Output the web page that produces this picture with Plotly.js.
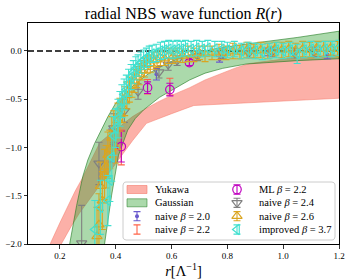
<!DOCTYPE html>
<html><head><meta charset="utf-8">
<script src="https://cdn.plot.ly/plotly-3.0.1.min.js"></script>
<style>html,body{margin:0;padding:0;background:#fff}#chart{width:350px;height:280px}</style>
</head><body><div id="chart"></div>
<script>
// ================= DATA =================
const xTickVals = [0.2, 0.4, 0.6, 0.8, 1.0, 1.2];
const yTickVals = [0.0, -0.5, -1.0, -1.5, -2.0];

// Yukawa band edges
const yukawaUpperR = [0.12, 0.165, 0.20, 0.23, 0.255, 0.28, 0.31, 0.343, 0.38, 0.42, 0.46, 0.50, 0.55, 0.60, 0.665, 0.72, 0.783, 0.83, 0.879, 0.95, 1.02, 1.10, 1.20];
const yukawaUpperV = [-2.4, -2.0, -1.78, -1.60, -1.45, -1.32, -1.14, -0.95, -0.86, -0.77, -0.68, -0.61, -0.53, -0.46, -0.38, -0.30, -0.23, -0.175, -0.13, -0.10, -0.076, -0.058, -0.041];
const yukawaLowerR = [0.165, 0.205, 0.24, 0.27, 0.30, 0.33, 0.36, 0.40, 0.43, 0.46, 0.51, 0.60, 0.68, 0.80, 0.95, 1.10, 1.20];
const yukawaLowerV = [-2.4, -2.0, -1.82, -1.68, -1.56, -1.45, -1.33, -1.17, -1.05, -0.93, -0.75, -0.65, -0.565, -0.545, -0.525, -0.505, -0.49];

// Gaussian band edges
const gaussUpperR = [0.21, 0.235, 0.26, 0.282, 0.30, 0.324, 0.35, 0.372, 0.40, 0.43, 0.47, 0.52, 0.58, 0.65, 0.75, 0.85, 0.95, 1.05, 1.20];
const gaussUpperV = [-2.4, -2.0, -1.6, -1.30, -1.13, -0.96, -0.80, -0.68, -0.54, -0.45, -0.34, -0.23, -0.13, -0.05, 0.02, 0.065, 0.10, 0.14, 0.205];
const gaussLowerR = [0.33, 0.36, 0.385, 0.41, 0.443, 0.47, 0.50, 0.557, 0.60, 0.665, 0.72, 0.783, 0.867, 0.95, 1.05, 1.20];
const gaussLowerV = [-2.4, -2.0, -1.5, -1.08, -0.82, -0.70, -0.61, -0.48, -0.41, -0.30, -0.23, -0.18, -0.135, -0.12, -0.10, -0.08];

// naive beta = 2.0
const naive20R = [0.386, 0.546, 0.772, 0.946, 1.158];
const naive20V = [-0.98, -0.24, -0.085, -0.01, -0.04];
const naive20E = [0.17, 0.06, 0.03, 0.04, 0.04];

// beta = 2.2 (naive and ML share positions)
const beta22R = [0.42, 0.514, 0.594, 0.664];
const naive22V = [-1.00, -0.37, -0.37, -0.11];
const naive22E = [0.18, 0.075, 0.087, 0.04];
const ml22V = [-0.99, -0.38, -0.40, -0.12];
const ml22E = [0.16, 0.06, 0.065, 0.03];

// naive beta = 2.4
const naive24R = [0.278, 0.34, 0.393, 0.431, 0.48, 0.555, 0.588, 0.62, 0.693, 0.784, 0.877, 0.96, 1.04, 1.11];
const naive24V = [-1.99, -1.165, -0.80, -0.62, -0.42, -0.22, -0.14, -0.10, -0.05, -0.03, -0.02, -0.01, -0.02, -0.01];
const naive24E = [0.39, 0.22, 0.15, 0.12, 0.08, 0.06, 0.06, 0.05, 0.05, 0.05, 0.05, 0.05, 0.05, 0.05];

// naive beta = 2.6
const naive26R = [0.333, 0.340, 0.345, 0.352, 0.360, 0.366, 0.372, 0.379, 0.386, 0.393, 0.400, 0.408, 0.415, 0.424, 0.432, 0.440, 0.449, 0.458, 0.466, 0.475, 0.484, 0.493, 0.503, 0.513, 0.524, 0.536, 0.548, 0.560, 0.575, 0.590, 0.605, 0.620, 0.640, 0.660, 0.680, 0.700, 0.720, 0.745, 0.770, 0.795, 0.820, 0.845, 0.870, 0.895, 0.920, 0.945, 0.970, 0.995, 1.020, 1.045, 1.070, 1.095, 1.120, 1.145, 1.170, 1.195];
const naive26V = [-1.92, -1.80, -1.40, -1.55, -1.28, -1.20, -1.08, -1.02, -0.90, -0.82, -1.00, -0.72, -0.66, -0.58, -0.52, -0.46, -0.40, -0.36, -0.31, -0.27, -0.24, -0.20, -0.17, -0.14, -0.13, -0.10, -0.09, -0.07, -0.08, -0.05, -0.06, -0.04, -0.05, -0.03, -0.04, -0.02, -0.03, -0.02, -0.01, -0.02, 0.00, -0.01, 0.01, 0.00, 0.01, 0.00, 0.02, 0.01, 0.02, 0.01, 0.02, 0.01, 0.03, 0.02, 0.03, 0.02];
const naive26E = [0.30, 0.32, 0.25, 0.30, 0.26, 0.22, 0.24, 0.20, 0.22, 0.20, 0.16, 0.18, 0.17, 0.16, 0.15, 0.14, 0.13, 0.12, 0.12, 0.11, 0.11, 0.10, 0.10, 0.09, 0.09, 0.09, 0.08, 0.08, 0.07, 0.08, 0.07, 0.07, 0.07, 0.08, 0.07, 0.07, 0.08, 0.07, 0.08, 0.07, 0.08, 0.07, 0.08, 0.07, 0.08, 0.08, 0.07, 0.08, 0.08, 0.07, 0.08, 0.08, 0.07, 0.08, 0.07, 0.08];

// improved beta = 3.7
const impr37R = [0.325, 0.345, 0.372, 0.379, 0.386, 0.393, 0.400, 0.408, 0.415, 0.422, 0.430, 0.438, 0.446, 0.455, 0.463, 0.472, 0.480, 0.490, 0.500, 0.510, 0.520, 0.530, 0.545, 0.560, 0.575, 0.590, 0.605, 0.620, 0.635, 0.650, 0.670, 0.690, 0.710, 0.730, 0.755, 0.780, 0.800, 0.825, 0.850, 0.875, 0.900, 0.925, 0.950, 0.975, 1.000, 1.025, 1.050, 1.075, 1.100, 1.125, 1.150, 1.175, 1.200];
const impr37V = [-1.85, -1.62, -1.55, -1.34, -1.10, -0.88, -0.80, -0.70, -0.60, -0.52, -0.45, -0.40, -0.33, -0.27, -0.22, -0.18, -0.15, -0.12, -0.09, -0.07, -0.05, -0.03, -0.02, 0.00, 0.01, 0.02, 0.01, 0.02, 0.02, 0.03, 0.02, 0.03, 0.02, 0.03, 0.02, 0.02, 0.01, 0.02, 0.00, 0.01, 0.00, -0.01, 0.00, 0.01, 0.00, 0.01, -0.03, 0.01, 0.02, 0.01, 0.02, 0.02, 0.03];
const impr37E = [0.30, 0.28, 0.26, 0.22, 0.25, 0.20, 0.20, 0.20, 0.18, 0.17, 0.16, 0.15, 0.14, 0.13, 0.12, 0.12, 0.11, 0.11, 0.10, 0.10, 0.10, 0.09, 0.09, 0.09, 0.09, 0.09, 0.09, 0.09, 0.08, 0.08, 0.08, 0.08, 0.08, 0.08, 0.08, 0.08, 0.08, 0.08, 0.08, 0.08, 0.08, 0.08, 0.08, 0.08, 0.08, 0.08, 0.10, 0.08, 0.08, 0.08, 0.08, 0.08, 0.08];

// ================= STYLE =================
const FONT = 'Liberation Serif, Times New Roman, serif';
const C = {
  yukFill: 'rgba(250,128,114,0.62)', yukLine: 'rgba(245,115,100,0.8)',
  gauFill: 'rgba(44,160,44,0.40)', gauLine: 'rgba(30,120,30,0.75)',
  n20: '#6a5acd', n22: '#ff6347', ml: '#bf00bf', n24: '#808080', n26: '#daa520', imp: '#40e0d0'
};
const STY = {
  n20: {symbol: 'circle', size: 4, color: C.n20, open: false},
  n22: {symbol: 'circle', size: 1, color: C.n22, open: false, hidden: true},
  ml:  {symbol: 'circle-open', size: 8.5, color: C.ml, open: true},
  n24: {symbol: 'triangle-down-open', size: 9, color: C.n24, open: true},
  n26: {symbol: 'triangle-up-open', size: 9, color: C.n26, open: true},
  imp: {symbol: 'triangle-left-open', size: 9, color: C.imp, open: true}
};

function band(upR, upV, loR, loV) {
  return {x: upR.concat(loR.slice().reverse()), y: upV.concat(loV.slice().reverse())};
}
function errSeries(name, xs, ys, es, st, xa, ya) {
  return {
    type: 'scatter', mode: 'markers', name: name, x: xs, y: ys, showlegend: false,
    xaxis: xa || 'x', yaxis: ya || 'y', hoverinfo: 'skip', cliponaxis: true,
    marker: {symbol: st.symbol, size: st.size, color: st.color, opacity: st.hidden ? 0 : 1,
             line: {color: st.color, width: st.open ? 1.2 : 0}},
    error_y: {type: 'data', array: es, visible: true, color: st.color, thickness: 1.1, width: 3.5}
  };
}

const traces = [];
const yb = band(yukawaUpperR, yukawaUpperV, yukawaLowerR, yukawaLowerV);
traces.push({type: 'scatter', mode: 'lines', name: 'Yukawa', x: yb.x, y: yb.y, fill: 'toself',
  fillcolor: C.yukFill, line: {color: C.yukLine, width: 0.6}, showlegend: false, hoverinfo: 'skip'});
const gb = band(gaussUpperR, gaussUpperV, gaussLowerR, gaussLowerV);
traces.push({type: 'scatter', mode: 'lines', name: 'Gaussian', x: gb.x, y: gb.y, fill: 'toself',
  fillcolor: C.gauFill, line: {color: C.gauLine, width: 0.8}, showlegend: false, hoverinfo: 'skip'});

traces.push(errSeries('naive β = 2.0', naive20R, naive20V, naive20E, STY.n20));
traces.push(errSeries('naive β = 2.2', beta22R, naive22V, naive22E, STY.n22));
traces.push(errSeries('ML β = 2.2', beta22R, ml22V, ml22E, STY.ml));
traces.push(errSeries('naive β = 2.4', naive24R, naive24V, naive24E, STY.n24));
traces.push(errSeries('naive β = 2.6', naive26R, naive26V, naive26E, STY.n26));
traces.push(errSeries('improved β = 3.7', impr37R, impr37V, impr37E, STY.imp));

// ================= HAND-MADE LEGEND (pixel overlay axes) =================
const W = 350, H = 280;
const M = {l: 28, r: 11, t: 23, b: 36};
const LEG = {x0: 123, x1: 335, y0: 182, y1: 240, rad: 3,
  colGlyph: [137, 237], colText: [153, 257], rows: [189.5, 202.8, 216.2, 229.5]};
const legendEntries = [
  {label: 'Yukawa', kind: 'fill', fill: C.yukFill, line: C.yukLine},
  {label: 'Gaussian', kind: 'fill', fill: C.gauFill, line: C.gauLine},
  {label: 'naive <i>β</i> = 2.0', kind: 'err', st: STY.n20},
  {label: 'naive <i>β</i> = 2.2', kind: 'err', st: STY.n22},
  {label: 'ML <i>β</i> = 2.2', kind: 'err', st: STY.ml},
  {label: 'naive <i>β</i> = 2.4', kind: 'err', st: STY.n24},
  {label: 'naive <i>β</i> = 2.6', kind: 'err', st: STY.n26},
  {label: 'improved <i>β</i> = 3.7', kind: 'err', st: STY.imp}
];
// legend frame (rounded rectangle)
(function () {
  const px = [], py = [], r = LEG.rad;
  const corners = [[LEG.x1 - r, LEG.y0 + r, -90], [LEG.x1 - r, LEG.y1 - r, 0], [LEG.x0 + r, LEG.y1 - r, 90], [LEG.x0 + r, LEG.y0 + r, 180]];
  corners.forEach(function (c) {
    for (let k = 0; k <= 4; k++) {
      const a = (c[2] + k * 22.5) * Math.PI / 180;
      px.push(c[0] + r * Math.cos(a)); py.push(c[1] + r * Math.sin(a));
    }
  });
  px.push(px[0]); py.push(py[0]);
  traces.push({type: 'scatter', mode: 'lines', x: px, y: py, xaxis: 'x2', yaxis: 'y2', fill: 'toself',
    fillcolor: 'rgba(255,255,255,0.85)', line: {color: '#cccccc', width: 1}, showlegend: false, hoverinfo: 'skip'});
})();
const annotations = [];
legendEntries.forEach(function (e, i) {
  const col = Math.floor(i / 4), row = i % 4;
  const gx = LEG.colGlyph[col], gy = LEG.rows[row];
  if (e.kind === 'fill') {
    traces.push({type: 'scatter', mode: 'lines', x: [gx - 10, gx + 10, gx + 10, gx - 10, gx - 10],
      y: [gy - 4, gy - 4, gy + 4, gy + 4, gy - 4], xaxis: 'x2', yaxis: 'y2', fill: 'toself',
      fillcolor: e.fill, line: {color: e.line, width: 0.7}, showlegend: false, hoverinfo: 'skip'});
  } else {
    traces.push(errSeries('', [gx], [gy], [4.6], e.st, 'x2', 'y2'));
  }
  annotations.push({xref: 'x2', yref: 'y2', x: LEG.colText[col], y: gy, xanchor: 'left', yanchor: 'middle',
    text: e.label, showarrow: false, font: {family: FONT, size: 10.5, color: '#000'}});
});

const layout = {
  width: W, height: H, autosize: false,
  margin: {l: M.l, r: M.r, t: M.t, b: M.b, pad: 0},
  paper_bgcolor: '#fff', plot_bgcolor: '#fff',
  font: {family: FONT, color: '#000', size: 9},
  showlegend: false,
  title: {text: 'radial NBS wave function <i>R</i>(<i>r</i>)', font: {family: FONT, size: 16, color: '#000'},
    x: 0.5, xref: 'paper', xanchor: 'center', y: 1 - 13.5 / H, yref: 'container', yanchor: 'middle'},
  xaxis: {range: [0.0857, 1.2], tickvals: xTickVals, tickformat: '.1f', ticks: 'outside', ticklen: 3.5,
    tickwidth: 0.8, tickcolor: '#000', showline: true, linecolor: '#000', linewidth: 1, mirror: true,
    showgrid: false, zeroline: false, tickfont: {family: FONT, size: 9},
    title: {text: '<i>r</i>[Λ<sup>−1</sup>]', font: {family: FONT, size: 14.5}, standoff: 4}},
  yaxis: {range: [-2.0, 0.29], tickvals: yTickVals, tickformat: '.1f', ticks: 'outside', ticklen: 3.5,
    tickwidth: 0.8, tickcolor: '#000', showline: true, linecolor: '#000', linewidth: 1, mirror: true,
    showgrid: false, zeroline: false, tickfont: {family: FONT, size: 9}},
  xaxis2: {overlaying: 'x', anchor: 'y2', range: [M.l, W - M.r], visible: false, fixedrange: true},
  yaxis2: {overlaying: 'y', anchor: 'x2', range: [H - M.b, M.t], visible: false, fixedrange: true},
  shapes: [{type: 'line', xref: 'paper', x0: 0, x1: 1, yref: 'y', y0: 0, y1: 0, layer: 'below',
    line: {color: '#000', width: 1.3, dash: '6px,3px'}}],
  annotations: annotations
};
Plotly.newPlot('chart', traces, layout, {staticPlot: true, displayModeBar: false});
</script>
</body></html>
